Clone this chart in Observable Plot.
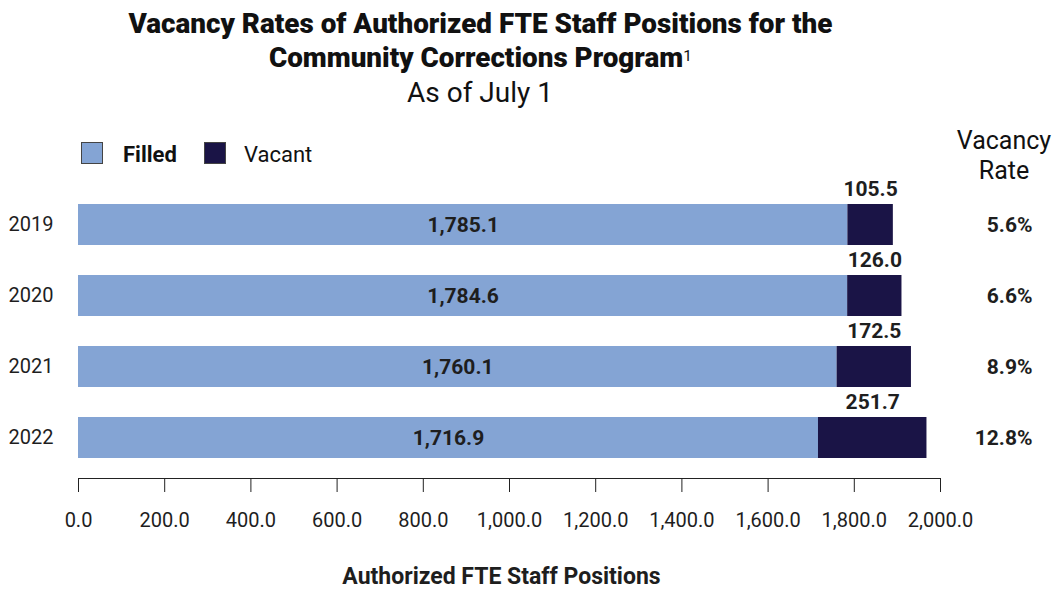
<!DOCTYPE html>
<html><head><meta charset="utf-8">
<script src="https://cdn.jsdelivr.net/npm/d3@7"></script>
<script src="https://cdn.jsdelivr.net/npm/@observablehq/plot@0.6"></script>
<style>
body{margin:0;background:#fff;font-family:Roboto,"Noto Sans",sans-serif;color:#111;}
#wrap{position:relative;width:1054px;height:592px;overflow:hidden;}
.t{position:absolute;left:0;width:960px;text-align:center;white-space:nowrap;}
.t span{display:inline-block;transform-origin:center;}
#t1{top:9px;font-size:27px;font-weight:900;line-height:30px;}
#t2{top:43px;font-size:27px;font-weight:900;line-height:30px;}
#t2 sup{font-size:15px;font-weight:400;vertical-align:top;position:relative;top:-2px;}
#t3{top:77px;font-size:28px;font-weight:400;line-height:32px;}
.sw{position:absolute;width:22px;height:22px;border:1px solid #444;box-sizing:border-box;}
.lt{position:absolute;font-size:22px;line-height:24px;}
#vr{position:absolute;left:944px;width:120px;text-align:center;top:126px;font-size:25px;line-height:30px;}
#chart{position:absolute;left:0;top:112px;}
</style></head>
<body><div id="wrap">
<div class="t" id="t1"><span>Vacancy Rates of Authorized FTE Staff Positions for the</span></div>
<div class="t" id="t2"><span>Community Corrections Program<sup>1</sup></span></div>
<div class="t" id="t3"><span>As of July 1</span></div>
<div class="sw" id="sw1" style="left:81px;top:142px;"></div>
<div class="lt" style="left:123px;top:143px;font-weight:700;">Filled</div>
<div class="sw" id="sw2" style="left:204px;top:142px;"></div>
<div class="lt" style="left:244px;top:143px;">Vacant</div>
<div id="vr">Vacancy<br>Rate</div>
<div id="chart"></div>
</div>
<script>
const years = ["2019", "2020", "2021", "2022"];
const filled = [1785.1, 1784.6, 1760.1, 1716.9];
const vacant = [105.5, 126.0, 172.5, 251.7];
const rates = ["5.6%", "6.6%", "8.9%", "12.8%"];
const xTicks = [0, 200, 400, 600, 800, 1000, 1200, 1400, 1600, 1800, 2000];
const filledColor = "#84a4d4";
const vacantColor = "#1a1446";
const textColor = "#1e1e1e";

document.getElementById("sw1").style.background = filledColor;
document.getElementById("sw2").style.background = vacantColor;

const rows = years.map((y, i) => ({year: y, filled: filled[i], vacant: vacant[i], total: filled[i] + vacant[i], rate: rates[i]}));
const fmt = d3.format(",.1f");

const chart = Plot.plot({
  width: 1054, height: 480,
  marginLeft: 78, marginRight: 114, marginTop: 72, marginBottom: 114,
  style: {fontFamily: "Roboto, sans-serif", color: textColor, background: "transparent"},
  x: {domain: [0, 2000]},
  y: {domain: years, paddingInner: 0.42, paddingOuter: 0.28},
  marks: [
    Plot.barX(rows, {y: "year", x1: 0, x2: "filled", fill: filledColor}),
    Plot.barX(rows, {y: "year", x1: "filled", x2: "total", fill: vacantColor}),
    Plot.text(rows, {y: "year", x: d => d.filled / 2, text: d => fmt(d.filled), fontWeight: 700, fontSize: 21, fill: textColor}),
    Plot.text(rows, {y: "year", x: d => d.filled + d.vacant / 2, text: d => fmt(d.vacant), dy: -36, fontWeight: 700, fontSize: 21, fill: textColor}),
    Plot.text(rows, {y: "year", frameAnchor: "right", dx: 92, textAnchor: "end", text: "rate", fontWeight: 700, fontSize: 21, fill: textColor}),
    Plot.frame({anchor: "bottom", stroke: "#222"}),
    Plot.axisX({ticks: xTicks, tickFormat: fmt, tickSize: 14, tickPadding: 20, fontSize: 20, label: null, stroke: "#222"}),
    Plot.axisY({tickSize: 0, tickPadding: 25, fontSize: 20, label: null}),
    Plot.text(["Authorized FTE Staff Positions"], {frameAnchor: "bottom", dy: 105, dx: -8, fontWeight: 700, fontSize: 23, fill: textColor})
  ]
});
document.getElementById("chart").appendChild(chart);

// fit title lines to the reference widths (condensed look)
function fit(id, w) {
  const s = document.querySelector("#" + id + " span");
  const cur = s.getBoundingClientRect().width;
  s.style.transform = "scaleX(" + (w / cur) + ")";
}
fit("t1", 704);
fit("t2", 423);
</script>
</body></html>
